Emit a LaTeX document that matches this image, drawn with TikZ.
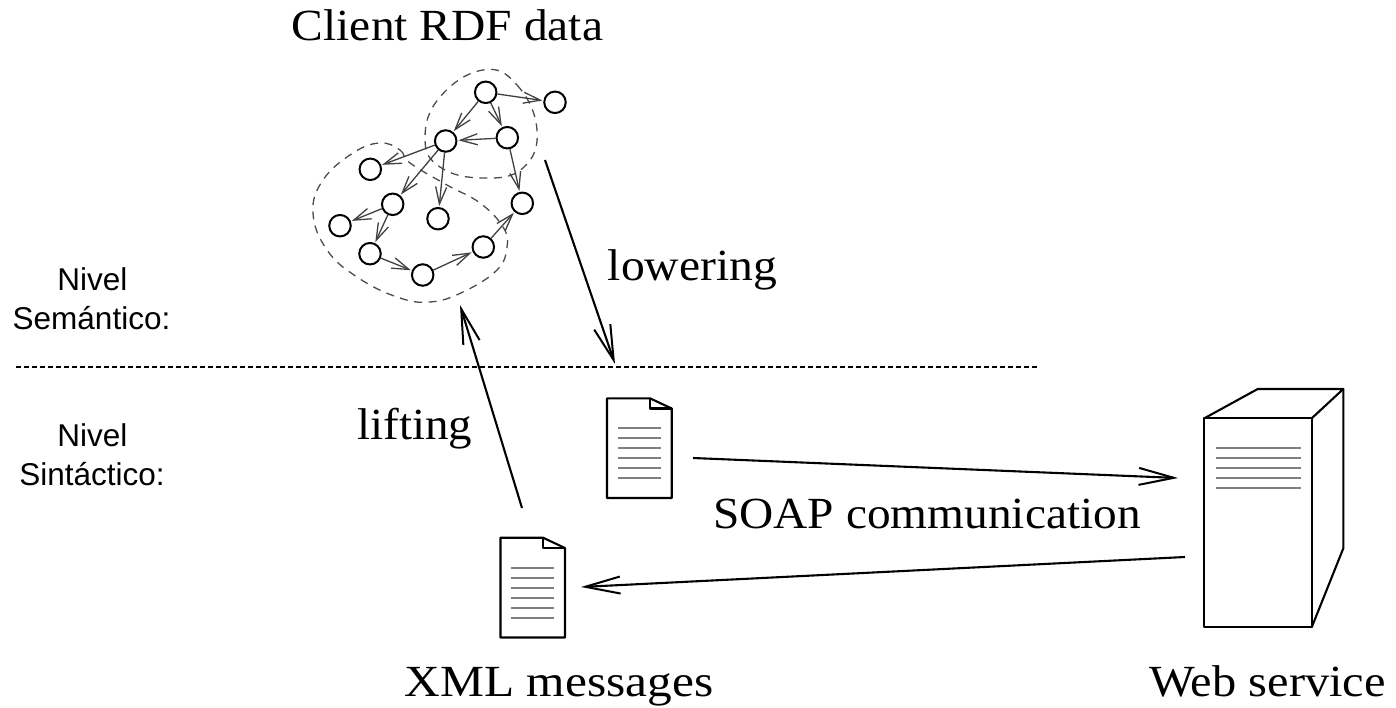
\documentclass[tikz,border=0pt]{standalone}
\usepackage{fontspec}
\setmainfont{Liberation Serif}
\newfontfamily\labelfont{Liberation Sans}
\usetikzlibrary{arrows.meta}
\newcommand{\wider}[2]{\scalebox{#1}[1]{#2}}
\tikzset{
  x=1pt,y=-1pt,
  gnode/.style={circle,draw=black,line width=2pt,minimum size=21.5pt,inner sep=0pt,fill=white},
  blob/.style={draw=black!70,line width=1.3pt,dash pattern=on 8pt off 6.5pt},
  edge/.style={draw=black!75,line width=1.3pt,-{Straight Barb[length=17pt,width=11pt,line width=1.3pt]},shorten >=1pt},
  bigarrow/.style={draw=black,line width=2.1pt,-{Straight Barb[length=35pt,width=17pt,line width=2pt]}},
  outline/.style={draw=black,line width=2.1pt,line join=round},
  textline/.style={draw=black!50,line width=1.7pt},
  caption/.style={font=\fontsize{44.5}{50}\selectfont,inner sep=0pt,anchor=base},
  side/.style={font=\labelfont\fontsize{31.5}{36}\selectfont,inner sep=0pt,anchor=base},
}
\begin{document}
\begin{tikzpicture}
\useasboundingbox (0,0) rectangle (1396,707);
% dashed groups
\draw[blob] plot[smooth cycle,tension=0.75] coordinates {(483,70) (517,85) (537,130) (523,168) (483,178) (440,167) (425,138) (440,97)};
\draw[blob] plot[smooth cycle,tension=0.7] coordinates {(380,143) (400,150) (410,163) (447,185) (480,203) (503,227) (507,247) (497,270) (463,292) (430,302) (397,297) (357,277) (327,250) (313,213) (323,180) (353,153)};
% graph nodes
\node[gnode] (n1) at (485.7,92.3) {};
\node[gnode] (n2) at (555,102.3) {};
\node[gnode] (n3) at (507.3,137.7) {};
\node[gnode] (n4) at (445.7,141) {};
\node[gnode] (n5) at (370.3,169.3) {};
\node[gnode] (n6) at (392.7,204.3) {};
\node[gnode] (n7) at (438,218.7) {};
\node[gnode] (n8) at (522.3,203.3) {};
\node[gnode] (n9) at (340,225.7) {};
\node[gnode] (n10) at (370,253.7) {};
\node[gnode] (n11) at (422.7,275) {};
\node[gnode] (n12) at (483.3,247) {};
\draw[edge] (n1) -- (n2);
\draw[edge] (n1) -- (n3);
\draw[edge] (n1) -- (n4);
\draw[edge] (n3) -- (n4);
\draw[edge] (n3) -- (n8);
\draw[edge] (n4) -- (n5);
\draw[edge] (n4) -- (n6);
\draw[edge] (n4) -- (n7);
\draw[edge] (n6) -- (n9);
\draw[edge] (n6) -- (n10);
\draw[edge] (n10) -- (n11);
\draw[edge] (n11) -- (n12);
\draw[edge] (n12) -- (n8);
% level separator
\coordinate (sepA) at (16,367);
\coordinate (sepB) at (1037,367);
\draw[draw=black,line width=1.7pt,dash pattern=on 5pt off 3pt] (sepA) -- (sepB);
% documents
\draw[outline] (607,398.3) -- (650,398.3) -- (671.7,408.5) -- (671.7,498) -- (607,498) -- cycle;
\draw[outline] (650,398.3) -- (650,408.5) -- (671.7,408.5);
\foreach \y in {428,438,448,458,468,478} \draw[textline] (618,\y) -- (661,\y);
\draw[outline] (500.5,537.7) -- (543,537.7) -- (565,548) -- (565,637.5) -- (500.5,637.5) -- cycle;
\draw[outline] (543,537.7) -- (543,548) -- (565,548);
\foreach \y in {568,578,588,598,608,618} \draw[textline] (511,\y) -- (554,\y);
% server
\draw[outline] (1204.3,418.3) rectangle (1311.7,627.3);
\draw[outline] (1204.3,418.3) -- (1257.7,389) -- (1343.3,389) -- (1311.7,418.3);
\draw[outline] (1343.3,389) -- (1343.3,548.3) -- (1311.7,627.3);
\foreach \y in {448,458,468,478,488} \draw[textline] (1215.5,\y) -- (1300.7,\y);
% main arrows
\coordinate (lowA) at (545,160); \coordinate (lowB) at (615,364);
\coordinate (liftA) at (522,508); \coordinate (liftB) at (460,305);
\coordinate (soapA) at (693,458); \coordinate (soapB) at (1178,478);
\coordinate (backA) at (1185,557); \coordinate (backB) at (581,587);
\draw[bigarrow] (lowA) -- (lowB);
\draw[bigarrow] (liftA) -- (liftB);
\draw[bigarrow] (soapA) -- (soapB);
\draw[bigarrow] (backA) -- (backB);
% captions
\node[caption] (t1) at (447.5,40.7) {\wider{1.067}{Client RDF data}};
\node[caption] (t2) at (692.5,280) {\wider{1.07}{lowering}};
\node[caption] (t3) at (415,439) {\wider{1.056}{lifting}};
\node[caption] (t4) at (927,528.3) {\wider{1.064}{SOAP communication}};
\node[caption] (t5) at (559,696.7) {\wider{1.11}{XML messages}};
\node[caption] (t6) at (1267.5,696.7) {\wider{1.088}{Web service}};
\node[side] (s1) at (92.5,290.7) {Nivel};
\node[side] (s2) at (91.5,329) {Semántico:};
\node[side] (s3) at (92.5,446.7) {Nivel};
\node[side] (s4) at (92,485) {Sintáctico:};
\end{tikzpicture}
\end{document}
